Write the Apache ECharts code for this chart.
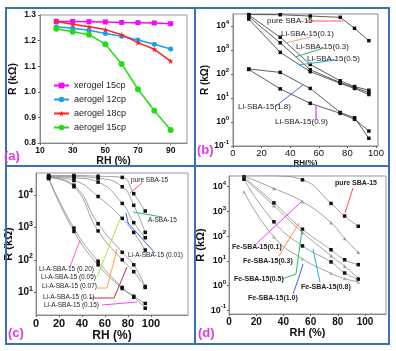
<!DOCTYPE html>
<html><head><meta charset="utf-8">
<script src="https://cdn.jsdelivr.net/npm/echarts@6/dist/echarts.min.js"></script>
<style>html,body{margin:0;padding:0;background:#fff}#c{width:396px;height:351px}</style>
</head><body><div id="c"></div>
<script>
// ---------- Panel (a) ----------
const rhA = [20,30,40,50,60,70,80,90];
const xerogel15 = [1.275,1.275,1.274,1.273,1.271,1.270,1.269,1.266];
const aerogel12 = [1.254,1.248,1.240,1.228,1.217,1.202,1.186,1.167];
const aerogel18 = [1.275,1.264,1.254,1.243,1.223,1.192,1.166,1.120];
const aerogel15 = [1.246,1.235,1.223,1.186,1.109,1.010,0.926,0.851];
const xTicksA = [10,30,50,70,90];
// ---------- Panel (b) ----------
const rhB = [11,33,54,75,85,95];
const bPure = [30000,29500,26000,23000,8000,2450];
const bLi01 = [29000,3400,250,52,30,21];
const bLi03 = [24500,2000,150,44,27,17];
const bLi05 = [19500,800,125,41,25,14];
const bLi18 = [162,117,25,2.5,1.5,0.21];
const bLi09 = [155,24,6,2.3,1.3,0.42];
// ---------- Panel (c) ----------
const rhC = [11,33,54,75,85,95];
const cPure = [40000,40000,38000,35000,11000,3200];
const cA = [38000,37000,33000,18000,4800,700];
const c001 = [37000,34000,25000,5500,1400,480];
const c005 = [36000,28000,9000,1900,700,200];
const c007 = [35000,20000,1300,170,70,15];
const c01 = [34000,18000,780,100,43,14];
const c015 = [33000,950,90,14,7.5,4.5];
const c020 = [32000,750,70,13,7,3.2];
// ---------- Panel (d) ----------
const rhD = [11,33,54,75,85,95];
const dPure = [30000,28000,19000,2100,650,250];
const dFe01 = [27000,8500,2500,350,80,22];
const dFe03 = [25000,2200,190,28,11,7];
const dFe05 = [22000,1700,140,16,6,2];
const dFe08 = [20000,380,40,9,3.2,1.8];
const dFe10 = [6300,93,12,3.1,1.9,1.4];
// tick labels
const xTicksBCD = [0,20,40,60,80,100];
const yTicksB = [0.1,1,10,100,1000,10000];
const yTicksC = [10,100,1000,10000];
const yTicksD = [0.1,1,10,100,1000,10000];

const FONT = '"Liberation Sans", Arial, sans-serif';
const pairs = (xs, ys) => xs.map((x,i)=>[x, ys[i]]);
const sup = v => { const e = Math.round(Math.log10(v)); return '{b|10}{s|' + e + '}'; };
const supRich = (fs) => ({
  b:{fontSize:fs, fontWeight:'bold', color:'#111', fontFamily:FONT, lineHeight:fs+4},
  s:{fontSize:Math.round(fs*0.65), fontWeight:'bold', color:'#111', fontFamily:FONT, verticalAlign:'top', lineHeight:Math.round(fs*0.65)}
});
const axisBase = (idx, o) => Object.assign({
  gridIndex: idx,
  axisLine:{show:true, lineStyle:{color:'#888', width:1}},
  splitLine:{show:false},
  axisTick:{show:true, length:2, lineStyle:{color:'#666'}},
  nameTextStyle:{fontFamily:FONT, fontWeight:'bold', color:'#111'}
}, o);

const blackLine = (name, xs, ys, sym) => ({
  name, type:'line', data:pairs(xs, ys), symbol:sym||'rect', symbolSize:3.5,
  lineStyle:{color:'#333', width:0.8}, itemStyle:{color:'#111'}, z:3
});
const grayCurve = (name, xs, ys, sym, symColor) => ({
  name, type:'line', smooth:true, data:pairs(xs, ys), symbol:sym||'rect', symbolSize:3.5,
  lineStyle:{color:'#8a8a8a', width:0.8}, itemStyle:{color:symColor||'#111'}, z:3
});

const series = [
  {name:'xerogel 15cp', type:'line', xAxisIndex:0, yAxisIndex:0, data:pairs(rhA,xerogel15), symbol:'rect', symbolSize:5,
   lineStyle:{color:'#ff00ff', width:1.5}, itemStyle:{color:'#ff00ff'}},
  {name:'aerogel 12cp', type:'line', xAxisIndex:0, yAxisIndex:0, data:pairs(rhA,aerogel12), symbol:'circle', symbolSize:5,
   lineStyle:{color:'#1ea0e6', width:1.5}, itemStyle:{color:'#1ea0e6'}},
  {name:'aerogel 18cp', type:'line', xAxisIndex:0, yAxisIndex:0, data:pairs(rhA,aerogel18),
   symbol:'path://M0,-1L0.22,-0.3L0.95,-0.3L0.36,0.12L0.59,0.81L0,0.38L-0.59,0.81L-0.36,0.12L-0.95,-0.3L-0.22,-0.3Z', symbolSize:6,
   lineStyle:{color:'#ff2222', width:1.5}, itemStyle:{color:'#ff2222'}},
  {name:'aerogel 15cp', type:'line', xAxisIndex:0, yAxisIndex:0, data:pairs(rhA,aerogel15), symbol:'circle', symbolSize:6,
   lineStyle:{color:'#22dd11', width:1.5}, itemStyle:{color:'#22dd11'}}
];
[['pure SBA-15',bPure],['Li-SBA-15(0.1)',bLi01],['Li-SBA-15(0.3)',bLi03],['Li-SBA-15(0.5)',bLi05],['Li-SBA-15(1.8)',bLi18],['Li-SBA-15(0.9)',bLi09]]
  .forEach(([n,d]) => series.push(Object.assign(blackLine(n, rhB, d), {xAxisIndex:1, yAxisIndex:1})));
[['pure SBA-15',cPure],['A-SBA-15',cA],['Li-A-SBA-15 (0.01)',c001],['Li-A-SBA-15 (0.05)',c005],['Li-A-SBA-15 (0.07)',c007],
 ['Li-A-SBA-15 (0.1)',c01],['Li-A-SBA-15 (0.15)',c015],['Li-A-SBA-15 (0.20)',c020]]
  .forEach(([n,d]) => series.push(Object.assign(grayCurve(n, rhC, d, 'rect'), {xAxisIndex:2, yAxisIndex:2})));
[['pure SBA-15',dPure,'rect','#111'],['Fe-SBA-15(0.1)',dFe01,'triangle','#999'],['Fe-SBA-15(0.3)',dFe03,'rect','#111'],
 ['Fe-SBA-15(0.5)',dFe05,'triangle','#999'],['Fe-SBA-15(0.8)',dFe08,'rect','#111'],['Fe-SBA-15(1.0)',dFe10,'triangle','#aaa']]
  .forEach(([n,d,s,c]) => series.push(Object.assign(grayCurve(n, rhD, d, s, c), {xAxisIndex:3, yAxisIndex:3})));

// annotations (pixel layout): text, left x, center y, colour of leader, leader polyline
const annB = [
  ['pure SBA-15',267,21,'#ff5050',[[306,21],[343,21]]],
  ['Li-SBA-15(0.1)',281,33.5,'#f4a07a',[[285,43],[311,37]]],
  ['Li-SBA-15(0.3)',296,47,'#22c060',[[295,57],[324,48]]],
  ['Li-SBA-15(0.5)',307,58.5,'#20b0e0',[[298,65],[336,60]]],
  ['Li-SBA-15(1.8)',238,107,'#4060e0',[[276,106],[303,85]]],
  ['Li-SBA-15(0.9)',275,122,'#ff00ff',[[316,106],[316,119]]]
];
const annC = [
  ['pure SBA-15',131,180,'#ff5060',[[142,183],[130,193]]],
  ['A-SBA-15',148,220,'#20c080',[[133,212],[162,217]]],
  ['Li-A-SBA-15 (0.01)',128,255,'#4060e0',[[126,213],[128,223],[155,253]]],
  ['Li-A-SBA-15 (0.20)',39,269,'#ff60d0',[[70,267],[80,240]]],
  ['Li-A-SBA-15 (0.05)',41,277,'#b0e040',[[97,277],[120,219]]],
  ['Li-A-SBA-15 (0.07)',42,286,'#ffa040',[[97,288],[107,288],[117,249]]],
  ['Li-A-SBA-15 (0.1)',43,297,'#c03040',[[90,298],[114,298],[127,267]]],
  ['Li-A-SBA-15 (0.15)',44,305,'#ff40ff',[[102,305],[137,302]]]
];
const annD = [
  ['pure SBA-15',335,183,'#ff5060',[[353,188],[345,213]]],
  ['Fe-SBA-15(0.1)',232,247,'#ff30ff',[[256,244],[301,202]]],
  ['Fe-SBA-15(0.3)',243,261,'#ff9030',[[279,256],[299,223]]],
  ['Fe-SBA-15(0.5)',234,279,'#20c060',[[282,279],[296,274],[302,230]]],
  ['Fe-SBA-15(0.8)',301,287,'#20b0e0',[[320,282],[313,249]]],
  ['Fe-SBA-15(1.0)',248,298,'#4060e0',[[293,294],[298,280],[303,264]]]
];
const graphic = [];
const addAnn = (arr, fs, bold) => arr.forEach(([t,x,y,c,pts]) => {
  graphic.push({type:'polyline', shape:{points:pts}, style:{stroke:c, lineWidth:1, fill:null}, z:5});
  graphic.push({type:'text', x, y, style:{text:t, fontSize:fs, fontWeight:bold?'bold':'normal', fontFamily:FONT, fill:'#222', verticalAlign:'middle'}, z:6});
});
addAnn(annB, 8, false); addAnn(annC, 6.5, false); addAnn(annD, 7, true);
const FRAME = '#3a70b5';
graphic.push({type:'rect', shape:{x:6,y:8,width:383,height:336}, style:{fill:null, stroke:FRAME, lineWidth:2}, z:1});
graphic.push({type:'line', shape:{x1:195,y1:8,x2:195,y2:344}, style:{stroke:FRAME, lineWidth:2}, z:1});
graphic.push({type:'line', shape:{x1:6,y1:166,x2:389,y2:166}, style:{stroke:FRAME, lineWidth:2}, z:1});
[['(a)',4,156],['(b)',197,150],['(c)',8,333],['(d)',198,333]].forEach(([t,x,y]) =>
  graphic.push({type:'text', x, y, style:{text:t, fontSize:13, fontWeight:'bold', fontFamily:FONT, fill:'#e03ce0', verticalAlign:'middle'}, z:7}));

const chart = echarts.init(document.getElementById('c'), null, {renderer:'canvas'});
chart.setOption({
  animation:false,
  backgroundColor:'#fff',
  grid:[
    {left:40, top:15, width:147, height:128, show:true, borderColor:'#999', borderWidth:1},
    {left:233, top:14, width:145, height:132, show:true, borderColor:'#888', borderWidth:1},
    {left:36, top:173, width:152, height:142, show:true, borderColor:'#999', borderWidth:1},
    {left:229, top:176, width:157, height:138, show:true, borderColor:'#999', borderWidth:1}
  ],
  legend:{
    data:['xerogel 15cp','aerogel 12cp','aerogel 18cp','aerogel 15cp'],
    orient:'vertical', left:53, top:81, itemWidth:15, itemHeight:7, itemGap:5, padding:0,
    textStyle:{fontSize:9, fontFamily:FONT, color:'#222'}
  },
  xAxis:[
    axisBase(0,{type:'value', min:10, max:100, name:'RH (%)', nameLocation:'middle', nameGap:11,
      nameTextStyle:{fontFamily:FONT, fontWeight:'bold', fontSize:10.5, color:'#111'},
      axisLabel:{customValues:xTicksA, fontSize:8.5, fontWeight:'bold', color:'#111', fontFamily:FONT, margin:3},
      axisTick:{customValues:xTicksA, length:2, lineStyle:{color:'#666'}}}),
    axisBase(1,{type:'value', min:0, max:101.4, name:'RH(%)', nameLocation:'middle', nameGap:11,
      nameTextStyle:{fontFamily:FONT, fontWeight:'bold', fontSize:8, color:'#111'},
      axisLabel:{customValues:xTicksBCD, fontSize:9.5, color:'#111', fontFamily:FONT, margin:2},
      axisTick:{customValues:xTicksBCD, length:2, lineStyle:{color:'#666'}}}),
    axisBase(2,{type:'value', min:0, max:132.2, name:'RH (%)', nameLocation:'middle', nameGap:14,
      nameTextStyle:{fontFamily:FONT, fontWeight:'bold', fontSize:12, color:'#111'},
      axisLabel:{customValues:xTicksBCD, fontSize:11, fontWeight:'bold', color:'#111', fontFamily:FONT, margin:3},
      axisTick:{customValues:xTicksBCD, length:2, lineStyle:{color:'#666'}}}),
    axisBase(3,{type:'value', min:0, max:115.4, name:'RH (%)', nameLocation:'middle', nameGap:13,
      nameTextStyle:{fontFamily:FONT, fontWeight:'bold', fontSize:11, color:'#111'},
      axisLabel:{customValues:xTicksBCD, fontSize:10, fontWeight:'bold', color:'#111', fontFamily:FONT, margin:3},
      axisTick:{customValues:xTicksBCD, length:2, lineStyle:{color:'#666'}}})
  ],
  yAxis:[
    axisBase(0,{type:'value', min:0.8, max:1.3, interval:0.1, name:'R (kΩ)', nameLocation:'middle', nameGap:21,
      nameTextStyle:{fontFamily:FONT, fontWeight:'bold', fontSize:10.5, color:'#111'},
      axisLabel:{formatter:v=>v.toFixed(1), fontSize:8.5, fontWeight:'bold', color:'#111', fontFamily:FONT, margin:4}}),
    axisBase(1,{type:'log', logBase:10, min:0.1, max:Math.pow(10,4.5), name:'R (kΩ)', nameLocation:'middle', nameGap:15,
      nameTextStyle:{fontFamily:FONT, fontWeight:'bold', fontSize:10, color:'#111'},
      axisLabel:{customValues:yTicksB, formatter:sup, rich:supRich(8.5), margin:4},
      axisTick:{customValues:yTicksB, length:2, lineStyle:{color:'#666'}}}),
    axisBase(2,{type:'log', logBase:10, min:Math.pow(10,0.296), max:Math.pow(10,4.679), name:'R (kΩ)', nameLocation:'middle', nameGap:17,
      nameTextStyle:{fontFamily:FONT, fontWeight:'bold', fontSize:11, color:'#111'},
      axisLabel:{customValues:yTicksC, formatter:sup, rich:supRich(10), margin:3},
      axisTick:{customValues:yTicksC, length:2, lineStyle:{color:'#666'}}}),
    axisBase(3,{type:'log', logBase:10, min:Math.pow(10,-1.154), max:Math.pow(10,4.433), name:'R (kΩ)', nameLocation:'middle', nameGap:19,
      nameTextStyle:{fontFamily:FONT, fontWeight:'bold', fontSize:11, color:'#111'},
      axisLabel:{customValues:yTicksD, formatter:sup, rich:supRich(9), margin:3},
      axisTick:{customValues:yTicksD, length:2, lineStyle:{color:'#666'}}})
  ],
  series,
  graphic
});
</script></body></html>
